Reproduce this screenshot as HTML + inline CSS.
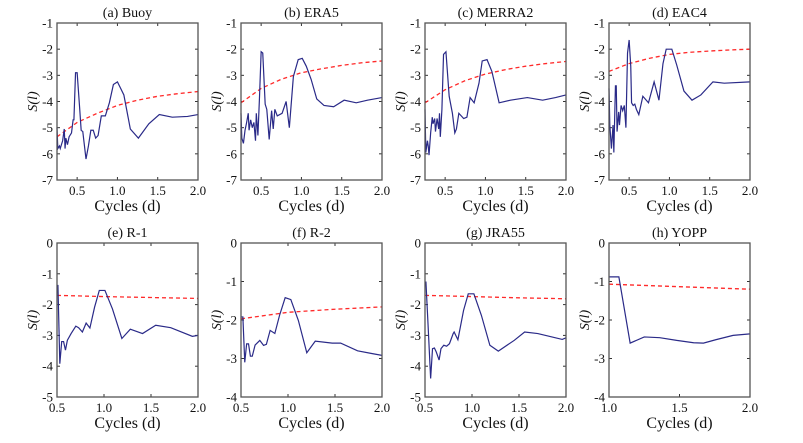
<!DOCTYPE html>
<html><head><meta charset="utf-8"><style>
html,body{margin:0;padding:0;background:#fff;}
svg{display:block;}
svg text{font-family:"Liberation Serif","Times New Roman",serif;}
</style></head><body>
<svg id="fig" width="803" height="443" viewBox="0 0 803 443"></svg>
<script>
const panelTitles=["(a) Buoy","(b) ERA5","(c) MERRA2","(d) EAC4","(e) R-1","(f) R-2","(g) JRA55","(h) YOPP"];
const xA=[.25,.26,.28,.29,.32,.34,.35,.36,.38,.40,.43,.45,.46,.48,.50,.53,.55,.57,.61,.64,.67,.70,.73,.76,.80,.85,.90,.95,1.0,1.04,1.08,1.16,1.26,1.39,1.52,1.68,1.87,2.0];
const yA=[-5.0,-5.8,-5.7,-5.8,-5.5,-5.05,-5.8,-5.4,-5.65,-5.35,-5.2,-4.7,-4.7,-2.9,-2.9,-4.2,-5.1,-5.15,-6.2,-5.7,-5.1,-5.1,-5.4,-5.3,-4.55,-4.55,-4.05,-3.35,-3.25,-3.5,-3.75,-5.05,-5.4,-4.85,-4.5,-4.6,-4.57,-4.5];
const xB=[.25,.26,.28,.30,.32,.34,.35,.37,.39,.41,.43,.44,.46,.48,.50,.52,.55,.57,.60,.63,.65,.67,.70,.76,.81,.85,.90,.96,1.01,1.06,1.12,1.19,1.28,1.40,1.53,1.68,1.82,2.0];
const yB=[-4.45,-5.4,-5.6,-5.1,-4.8,-4.45,-5.1,-4.7,-5.0,-4.8,-5.5,-4.45,-5.3,-3.8,-2.1,-2.15,-4.1,-4.3,-5.45,-4.35,-5.05,-4.3,-4.55,-4.45,-4.0,-5.0,-3.05,-2.4,-2.35,-2.65,-3.15,-3.9,-4.15,-4.2,-3.95,-4.05,-3.95,-3.85];
const xC=[.25,.26,.28,.29,.30,.32,.34,.35,.37,.38,.40,.42,.43,.44,.46,.48,.51,.55,.59,.62,.64,.67,.73,.77,.81,.86,.92,.96,1.02,1.08,1.17,1.31,1.52,1.71,1.87,2.0];
const yC=[-4.3,-5.95,-5.5,-5.7,-6.05,-5.2,-4.6,-4.85,-4.65,-5.15,-4.65,-5.05,-4.45,-5.35,-4.3,-2.2,-2.1,-3.8,-4.45,-5.2,-5.05,-4.45,-4.65,-4.6,-3.85,-4.05,-3.3,-2.45,-2.4,-2.85,-4.05,-3.95,-3.85,-3.95,-3.85,-3.75];
const xD=[.25,.26,.28,.30,.31,.33,.34,.35,.37,.38,.40,.42,.44,.46,.48,.50,.52,.53,.55,.57,.59,.62,.67,.74,.81,.87,.92,.96,1.03,1.09,1.18,1.28,1.39,1.54,1.68,2.0];
const yD=[-3.5,-4.9,-5.8,-4.9,-5.95,-3.4,-3.4,-5.15,-4.4,-4.9,-4.15,-4.35,-4.15,-5.0,-2.15,-1.65,-2.65,-4.05,-4.15,-4.1,-4.3,-4.5,-3.8,-4.05,-3.25,-3.95,-2.55,-2.0,-2.0,-2.6,-3.6,-3.95,-3.75,-3.25,-3.3,-3.25];
const xE=[.5,.51,.53,.55,.57,.59,.61,.65,.70,.73,.77,.81,.85,.90,.95,1.01,1.09,1.19,1.28,1.41,1.55,1.71,1.94,2.0];
const yE=[-1.38,-1.38,-3.92,-3.2,-3.2,-3.48,-3.16,-2.94,-2.7,-2.75,-2.89,-2.6,-2.76,-2.08,-1.54,-1.54,-2.14,-3.1,-2.8,-2.94,-2.67,-2.75,-3.03,-3.0];
const xF=[.5,.52,.54,.56,.58,.60,.62,.65,.70,.74,.77,.81,.86,.91,.97,1.03,1.11,1.20,1.29,1.47,1.56,1.74,1.89,2.0];
const yF=[-1.92,-1.92,-3.1,-2.62,-2.62,-2.94,-2.94,-2.65,-2.53,-2.66,-2.63,-2.27,-2.35,-1.88,-1.42,-1.47,-2.01,-2.85,-2.55,-2.6,-2.6,-2.8,-2.87,-2.92];
const xG=[.5,.51,.53,.56,.58,.60,.62,.65,.67,.70,.73,.76,.80,.81,.85,.91,.96,1.02,1.10,1.19,1.28,1.45,1.56,1.70,1.85,1.96,2.0];
const yG=[-1.27,-1.27,-2.5,-4.4,-3.43,-3.41,-3.54,-3.8,-3.43,-3.32,-3.35,-3.27,-2.94,-2.89,-3.14,-2.19,-1.65,-1.65,-2.35,-3.32,-3.51,-3.16,-2.89,-2.94,-3.05,-3.13,-3.08];
const xH=[1.0,1.07,1.15,1.25,1.36,1.48,1.60,1.67,1.76,1.88,2.0];
const yH=[-0.88,-0.88,-2.6,-2.44,-2.46,-2.53,-2.59,-2.6,-2.51,-2.4,-2.36];
const xRed=[.25,.5,.75,1.0,1.25,1.5,1.75,2.0];
const rA=[-5.35,-4.8,-4.45,-4.15,-3.95,-3.8,-3.7,-3.62];
const rB=[-4.05,-3.5,-3.15,-2.9,-2.75,-2.62,-2.52,-2.45];
const rC=[-4.05,-3.55,-3.2,-2.95,-2.78,-2.65,-2.55,-2.47];
const rD=[-2.85,-2.55,-2.35,-2.2,-2.12,-2.07,-2.03,-2.0];
const xRedB=[.5,1.0,1.5,2.0];
const rE=[-1.70,-1.74,-1.77,-1.80];
const rF=[-1.97,-1.80,-1.72,-1.66];
const rG=[-1.70,-1.74,-1.78,-1.81];
const xRedH=[1.0,2.0];
const rH=[-1.07,-1.2];
const xTicksTop=[0.5,1.0,1.5,2.0];
const xTicksH=[1.0,1.5,2.0];

const NS="http://www.w3.org/2000/svg";
const svg=document.getElementById('fig');
function mk(tag,attrs,parent){const e=document.createElementNS(NS,tag);for(const k in attrs)e.setAttribute(k,attrs[k]);(parent||svg).appendChild(e);return e;}

const panels=[
 {x:57,top:true,xr:[.25,2],yr:[-7,-1],bx:xA,by:yA,rx:xRed,ry:rA,xt:xTicksTop},
 {x:241,top:true,xr:[.25,2],yr:[-7,-1],bx:xB,by:yB,rx:xRed,ry:rB,xt:xTicksTop},
 {x:425,top:true,xr:[.25,2],yr:[-7,-1],bx:xC,by:yC,rx:xRed,ry:rC,xt:xTicksTop},
 {x:609,top:true,xr:[.25,2],yr:[-7,-1],bx:xD,by:yD,rx:xRed,ry:rD,xt:xTicksTop},
 {x:57,top:false,xr:[.5,2],yr:[-5,0],bx:xE,by:yE,rx:xRedB,ry:rE,xt:xTicksTop},
 {x:241,top:false,xr:[.5,2],yr:[-4,0],bx:xF,by:yF,rx:xRedB,ry:rF,xt:xTicksTop},
 {x:425,top:false,xr:[.5,2],yr:[-5,0],bx:xG,by:yG,rx:xRedB,ry:rG,xt:xTicksTop},
 {x:609,top:false,xr:[1,2],yr:[-4,0],bx:xH,by:yH,rx:xRedH,ry:rH,xt:xTicksH},
];
panels.forEach((p,i)=>{
  const W=141, T=p.top?23:243, B=p.top?180:397;
  const sx=v=>p.x+(v-p.xr[0])/(p.xr[1]-p.xr[0])*W;
  const sy=v=>B-(v-p.yr[0])/(p.yr[1]-p.yr[0])*(B-T);
  const g=mk('g',{});
  
  
  const t=mk('text',{x:p.x+W/2,y:T-6,'text-anchor':'middle','font-size':'14',fill:'#111'},g);
  t.textContent=panelTitles[i];
  
  
  for(let v=p.yr[0];v<=p.yr[1];v++){
    const y=sy(v);
    const tl=mk('text',{x:p.x-4,y:y+4.5,'text-anchor':'end','font-size':'13',fill:'#111'},g);
    tl.textContent=String(v);
    
    
    mk('line',{x1:p.x,x2:p.x+3,y1:y,y2:y,stroke:'#333','stroke-width':1},g);
    mk('line',{x1:p.x+W,x2:p.x+W-3,y1:y,y2:y,stroke:'#333','stroke-width':1},g);
  }
  p.xt.forEach(v=>{
    const x=sx(v);
    const tl=mk('text',{x:x,y:B+15,'text-anchor':'middle','font-size':'13',fill:'#111'},g);
    tl.textContent=v.toFixed(1);
    
    
    mk('line',{x1:x,x2:x,y1:B,y2:B-3,stroke:'#333','stroke-width':1},g);
    mk('line',{x1:x,x2:x,y1:T,y2:T+3,stroke:'#333','stroke-width':1},g);
  });
  const xl=mk('text',{x:p.x+W/2,y:B+31,'text-anchor':'middle','font-size':'16',fill:'#111'},g);
  xl.textContent='Cycles (d)';
  
  
  const cy=(T+B)/2;
  const yl=mk('text',{x:0,y:0,transform:`translate(${p.x-20},${cy}) rotate(-90)`,'text-anchor':'middle','font-size':'14','font-style':'italic',fill:'#111'},g);
  yl.textContent='S(l)';
  
  
  const red=mk('polyline',{points:p.rx.map((v,k)=>sx(v)+','+sy(p.ry[k])).join(' '),fill:'none',stroke:'#ff2a2a','stroke-width':1.3,'stroke-dasharray':'4,3'},g);
  
  
  const blue=mk('polyline',{points:p.bx.map((v,k)=>sx(v)+','+sy(p.by[k])).join(' '),fill:'none',stroke:'#2a2a88','stroke-width':1.2},g);
  
  
  const box=mk('rect',{x:p.x,y:T,width:W,height:B-T,fill:'none',stroke:'#555','stroke-width':1.3},g);
  
  
});
</script>
</body></html>
